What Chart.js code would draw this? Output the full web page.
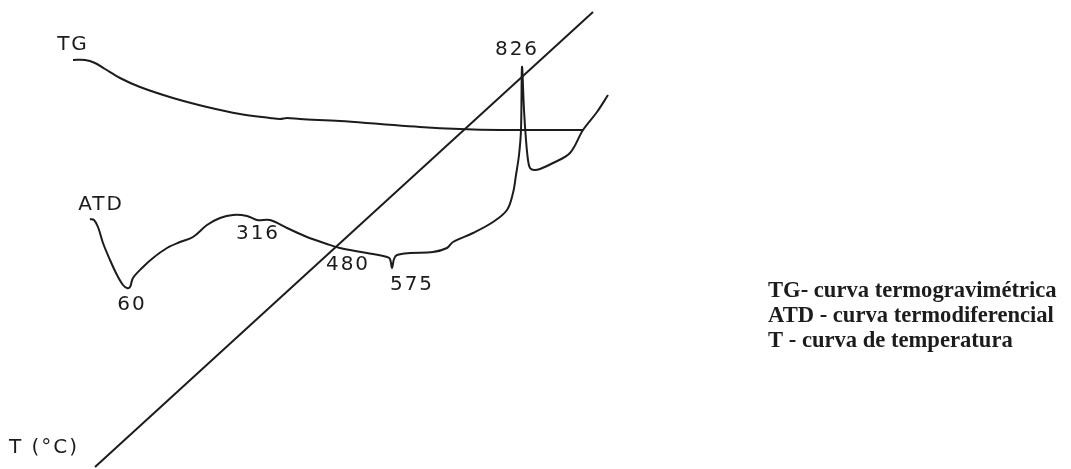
<!DOCTYPE html>
<html>
<head>
<meta charset="utf-8">
<script src="https://cdn.jsdelivr.net/npm/chart.js@4.4.1/dist/chart.umd.min.js"></script>
<style>
  html, body { margin: 0; padding: 0; background: #ffffff; }
  #wrap { position: relative; width: 1071px; height: 469px; }
  canvas { display: block; }
</style>
</head>
<body>
<div id="wrap"><canvas id="c" width="1071" height="469"></canvas></div>
<script>
// Chart units: x and y in arbitrary plot units (diagram has no numeric axes)
const X_RANGE = [0, 107.1];
const Y_RANGE = [0, 46.9];

// TG – thermogravimetric curve
const tgX = [7.3, 8.5, 9.5, 10.5, 12.0, 14.0, 17.3, 20.7, 24.0, 27.0, 28.0, 28.7, 30.0, 34.0, 38.0, 42.0, 46.0, 50.0, 54.0, 58.3];
const tgY = [40.9, 40.9, 40.6, 40.0, 39.1, 38.2, 37.1, 36.2, 35.5, 35.1, 35.0, 35.1, 35.0, 34.8, 34.5, 34.2, 34.0, 33.9, 33.9, 33.9];

// ATD – differential thermal curve
const atdX = [9.0, 9.4, 9.8, 10.3, 11.0, 11.7, 12.3, 12.7, 13.0, 13.3, 14.2, 15.3, 16.7, 18.0, 19.3, 20.7, 22.0, 23.3, 24.7, 25.7, 27.0, 28.7, 30.7, 32.7, 34.0, 36.7, 38.7, 39.0, 39.2, 39.4, 39.7, 41.0, 43.3, 44.7, 45.3, 47.3, 49.3, 50.7, 51.3, 51.6, 51.9, 52.1, 52.2, 52.4, 52.6, 52.8, 53.0, 53.4, 54.0, 55.3, 57.0, 58.3, 59.7, 60.8];
const atdY = [25.0, 24.9, 24.2, 22.6, 20.9, 19.4, 18.4, 18.1, 18.2, 19.1, 20.1, 21.1, 22.1, 22.7, 23.2, 24.4, 25.1, 25.4, 25.3, 24.9, 24.9, 24.1, 23.2, 22.5, 22.1, 21.6, 21.2, 21.0, 20.1, 21.0, 21.4, 21.6, 21.7, 22.1, 22.7, 23.6, 24.7, 25.9, 27.6, 29.4, 31.4, 33.9, 40.2, 35.9, 32.9, 30.9, 30.1, 29.9, 30.0, 30.6, 31.6, 33.9, 35.7, 37.4];

// T – temperature line
const tX = [9.5, 59.3];
const tY = [0.2, 45.7];

// Peak / curve annotations
const annTexts = ["TG", "ATD", "60", "316", "480", "575", "826", "T (\u00B0C)"];
const annX = [7.2, 10.0, 13.1, 25.7, 34.7, 41.1, 51.6, 4.3];
const annY = [42.4, 26.4, 16.4, 23.5, 20.4, 18.4, 41.9, 2.1];

// Key text
const keyBold = ["TG-", "ATD", "T"];
const keyRest = [" curva termogravim\u00E9trica", " - curva termodiferencial", " - curva de temperatura"];

const toPts = (xs, ys) => xs.map((x, i) => ({ x: x, y: ys[i] }));
const INK = '#1c1c1c';

const annotPlugin = {
  id: 'annot',
  afterDatasetsDraw(chart) {
    const ctx = chart.ctx;
    const xs = chart.scales.x, ys = chart.scales.y;
    ctx.save();
    ctx.fillStyle = INK;
    ctx.font = '20px "DejaVu Sans"';
    ctx.textAlign = 'center';
    ctx.textBaseline = 'middle';
    try { ctx.letterSpacing = '2px'; } catch (e) {}
    annTexts.forEach((t, i) => {
      ctx.fillText(t, xs.getPixelForValue(annX[i]) + 1, ys.getPixelForValue(annY[i]));
    });
    try { ctx.letterSpacing = '0px'; } catch (e) {}
    // key
    ctx.textAlign = 'left';
    ctx.textBaseline = 'alphabetic';
    const kx = 768, ky0 = 297, kdy = 25;
    keyBold.forEach((b, i) => {
      const y = ky0 + i * kdy;
      ctx.font = 'bold 22.6px "Liberation Serif"';
      ctx.fillText(b, kx, y);
      const w = ctx.measureText(b).width;
      ctx.fillText(keyRest[i], kx + w, y);
    });
    ctx.restore();
  }
};

const lineDs = (data, tension) => ({
  data: data,
  showLine: true,
  borderColor: INK,
  borderWidth: 2,
  pointRadius: 0,
  fill: false,
  tension: tension
});

new Chart(document.getElementById('c'), {
  type: 'scatter',
  data: {
    datasets: [
      lineDs(toPts(tgX, tgY), 0.35),
      lineDs(toPts(atdX, atdY), 0.35),
      lineDs(toPts(tX, tY), 0)
    ]
  },
  options: {
    responsive: false,
    animation: false,
    layout: { padding: 0 },
    plugins: { legend: { display: false }, tooltip: { enabled: false } },
    scales: {
      x: { type: 'linear', min: X_RANGE[0], max: X_RANGE[1], display: false },
      y: { type: 'linear', min: Y_RANGE[0], max: Y_RANGE[1], display: false }
    }
  },
  plugins: [annotPlugin]
});
</script>
</body>
</html>
